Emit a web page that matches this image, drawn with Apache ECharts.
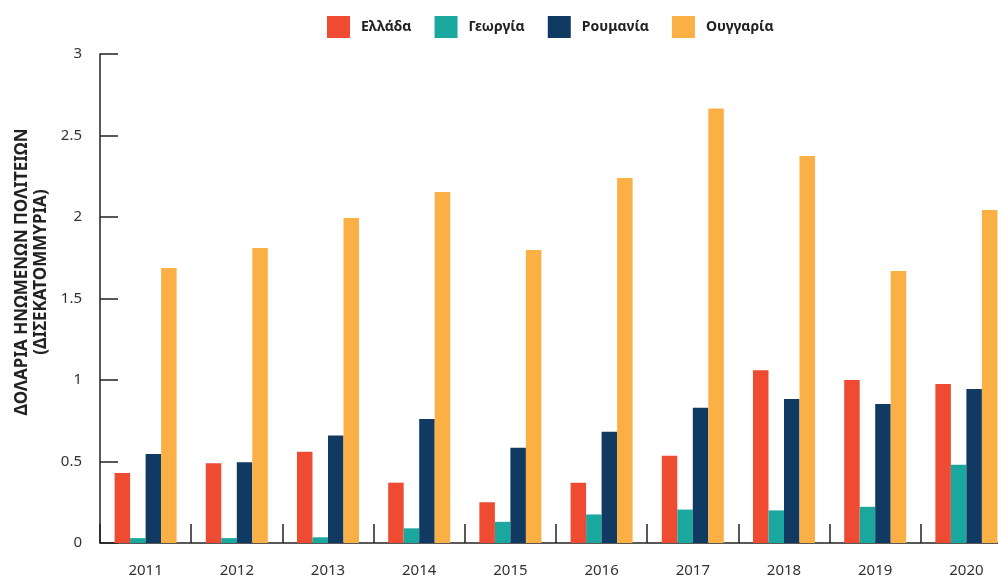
<!DOCTYPE html>
<html>
<head>
<meta charset="utf-8">
<script src="https://cdn.jsdelivr.net/npm/echarts@6/dist/echarts.min.js"></script>
<style>
  html, body { margin: 0; padding: 0; overflow: hidden; background: #fff; }
  #chart { width: 1012px; height: 580px; }
</style>
</head>
<body>
<div id="chart"></div>
<script>
const years = ["2011", "2012", "2013", "2014", "2015", "2016", "2017", "2018", "2019", "2020"];
const greece = [0.43, 0.49, 0.56, 0.37, 0.25, 0.37, 0.535, 1.06, 1.0, 0.975];
const georgia = [0.03, 0.03, 0.035, 0.09, 0.13, 0.175, 0.205, 0.2, 0.222, 0.48];
const romania = [0.546, 0.495, 0.66, 0.76, 0.585, 0.683, 0.83, 0.883, 0.853, 0.945];
const hungary = [1.687, 1.81, 1.994, 2.153, 1.797, 2.24, 2.665, 2.374, 1.669, 2.043];
const yTicks = [0, 0.5, 1, 1.5, 2, 2.5, 3];

const font = "Noto Sans";
const myChart = echarts.init(document.getElementById("chart"));

const bar = (name, data, color) => ({
  name: name,
  type: "bar",
  data: data,
  barGap: "0%",
  barCategoryGap: "32%",
  itemStyle: { color: color },
});

myChart.setOption({
  animation: false,
  textStyle: { fontFamily: font },
  legend: {
    left: 322,
    top: 11,
    itemWidth: 23,
    itemHeight: 22,
    itemGap: 23,
    icon: "rect",
    textStyle: { fontFamily: font, fontSize: 14, fontWeight: "bold", color: "#222", padding: [0, 0, 0, 6] },
  },
  grid: { left: 100, right: 0, top: 54, bottom: 37 },
  graphic: [
    {
      type: "text",
      x: 32,
      y: 272,
      rotation: Math.PI / 2,
      style: {
        text: "ΔΟΛΑΡΙΑ ΗΝΩΜΕΝΩΝ ΠΟΛΙΤΕΙΩΝ\n(ΔΙΣΕΚΑΤΟΜΜΥΡΙΑ)",
        fontFamily: font,
        fontSize: 17,
        fontWeight: "bold",
        fill: "#222",
        align: "center",
        verticalAlign: "middle",
        lineHeight: 19,
      },
    },
  ],
  xAxis: {
    type: "category",
    data: years,
    axisLine: { lineStyle: { color: "#222", width: 1.5 } },
    axisTick: { show: true, inside: true, length: 19, lineStyle: { color: "#222", width: 1.5 } },
    axisLabel: { color: "#333", fontSize: 15, margin: 20 },
  },
  yAxis: {
    type: "value",
    min: yTicks[0],
    max: yTicks[yTicks.length - 1],
    interval: 0.5,
    axisLine: { show: true, lineStyle: { color: "#222", width: 1.5 } },
    axisTick: { show: true, inside: true, length: 18, lineStyle: { color: "#222", width: 1.5 } },
    splitLine: { show: false },
    axisLabel: { color: "#333", fontSize: 15, margin: 18 },
  },
  series: [
    bar("Ελλάδα", greece, "#EE4B32"),
    bar("Γεωργία", georgia, "#1AA79E"),
    bar("Ρουμανία", romania, "#103A61"),
    bar("Ουγγαρία", hungary, "#FAB045"),
  ],
});
</script>
</body>
</html>
